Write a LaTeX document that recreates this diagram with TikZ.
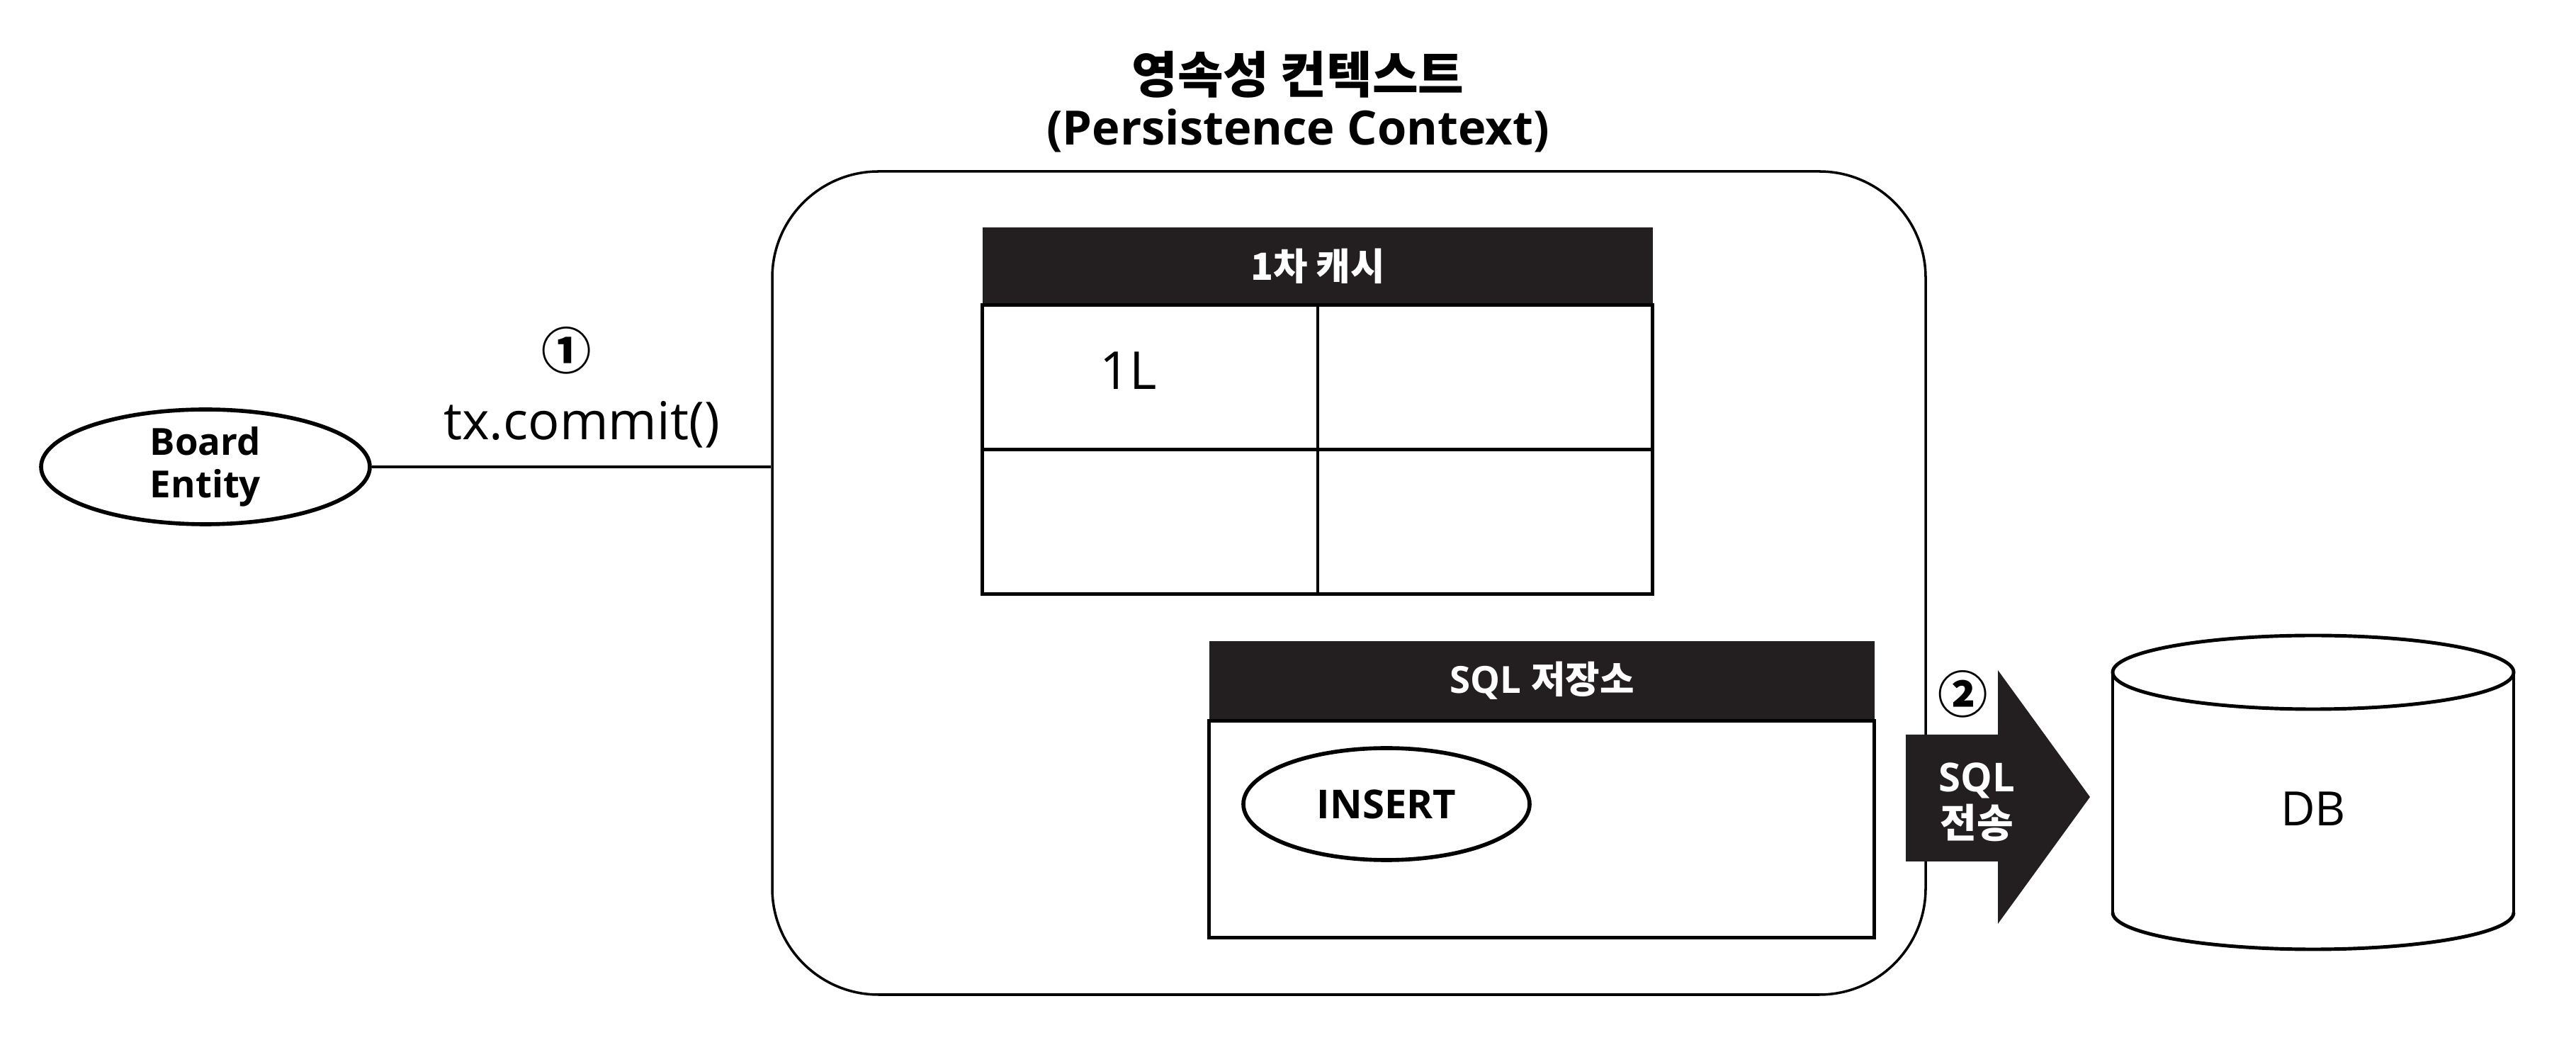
\documentclass[tikz,border=0pt]{standalone}
\usepackage{fontspec}
\setmainfont{Open Sans}
\newfontfamily\krfont{Noto Sans CJK KR}
\usetikzlibrary{shapes.geometric}
\definecolor{hdrblack}{RGB}{35,31,32}
\tikzset{
  ctxbox/.style={draw, line width=1pt, rounded corners=1.5cm,
    minimum width=16.28cm, minimum height=11.62cm},
  oval/.style={ellipse, draw, line width=1.6pt, inner sep=0pt, align=center,
    font=\fontsize{15}{17}\selectfont\bfseries},
  hdrbox/.style={fill=hdrblack, text=white, inner sep=0pt,
    font=\fontsize{15}{18}\selectfont\bfseries},
  stepnum/.style={font=\fontsize{20}{22}\selectfont\bfseries},
  tblline/.style={line width=1.4pt},
}

\begin{document}
\begin{tikzpicture}
  \useasboundingbox (0,0) rectangle (36.36,14.92);
  \node[font=\fontsize{20}{24}\selectfont\bfseries] (title) at (18.32,13.87) {\krfont 영속성 컨텍스트};
  \node[font=\fontsize{19}{24}\selectfont\bfseries] (subtitle) at (18.32,13.08) {(Persistence Context)};
  \node[ctxbox] (ctx) at (19.04,6.69) {};

  % entity -> context
  \node[oval, minimum width=4.64cm, minimum height=1.62cm] (board) at (2.90,8.33) {Board\\Entity};
  \draw[line width=1pt] (board.east) -- (board.east -| ctx.west);
  \node[stepnum] (stepone) at (8.00,9.97) {\krfont ①};
  \node[font=\fontsize{21}{24}\selectfont] (commit) at (8.21,8.93) {tx.commit()};

  % 1차 캐시
  \node[hdrbox, minimum width=9.46cm, minimum height=1.09cm] (cachehd) at (18.60,11.165) {\krfont 1차 캐시};
  \draw[tblline] (cachehd.south west) rectangle ++(9.46,-4.08);
  \draw[tblline] (cachehd.south) -- ++(0,-4.08);
  \draw[tblline] ([yshift=-2.04cm]cachehd.south west) -- ++(9.46,0);
  \node[font=\fontsize{21}{24}\selectfont] (key) at (15.93,9.69) {1L};

  % SQL 저장소
  \node[hdrbox, minimum width=9.39cm, minimum height=1.12cm] (sqlhd) at (21.765,5.31) {SQL {\krfont 저장소}};
  \draw[tblline] (sqlhd.south west) rectangle ++(9.39,-3.06);
  \node[oval, minimum width=4.04cm, minimum height=1.58cm, font=\fontsize{16}{18}\selectfont\bfseries] (insert) at (19.57,3.57) {INSERT};

  % SQL 전송
  \fill[hdrblack] (26.90,2.76) -- (28.20,2.76) -- (28.20,1.88) -- (29.50,3.67)
    -- (28.20,5.46) -- (28.20,4.55) -- (26.90,4.55) -- cycle;
  \node[align=center, text=white, font=\fontsize{16}{18.5}\selectfont\bfseries] (send) at (27.90,3.60) {SQL\\{\krfont 전송}};
  \node[stepnum] (steptwo) at (27.71,5.12) {\krfont ②};

  % DB
  \draw[line width=1.4pt] (32.65,5.43) ellipse (2.83 and 0.52);
  \draw[line width=1pt] (29.82,5.43) -- (29.82,2.04);
  \draw[line width=1pt] (35.48,5.43) -- (35.48,2.04);
  \draw[line width=1.4pt] (29.82,2.04) arc[start angle=180, end angle=360, x radius=2.83, y radius=0.52];
  \node[font=\fontsize{19}{22}\selectfont] (db) at (32.65,3.50) {DB};
\end{tikzpicture}
\end{document}
